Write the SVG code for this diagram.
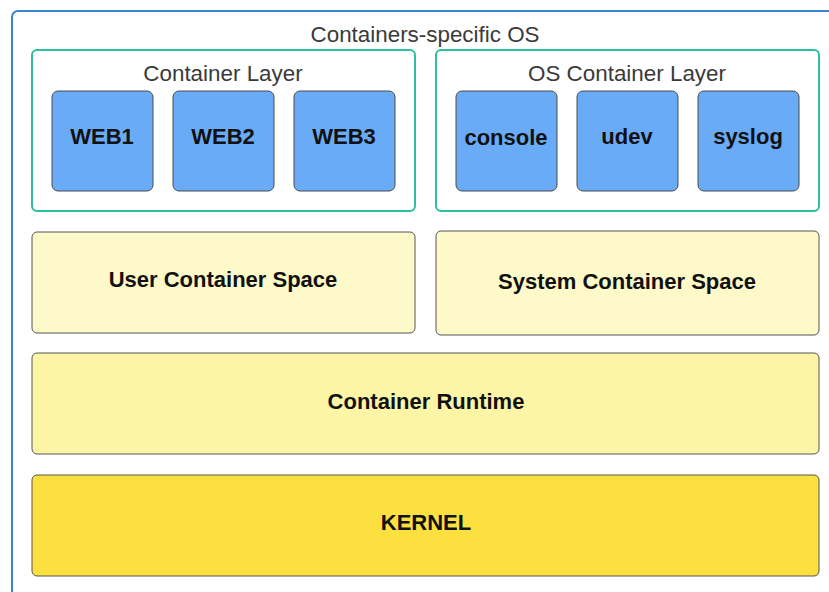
<svg xmlns="http://www.w3.org/2000/svg" width="829" height="592" viewBox="0 0 829 592">
<style>
text{font-family:"Liberation Sans",Arial,sans-serif;text-anchor:middle;dominant-baseline:central}
.title{font-size:22.4px;fill:#3a3a3a}
.lbl{font-size:22px;font-weight:bold;fill:#111}
.layer{fill:#fff;stroke:#2dbf9e;stroke-width:2}
.box{fill:#6aabf8;stroke:#4a4a4a;stroke-width:1}
.space{fill:#fdf9c8;stroke:#555;stroke-width:1}
.rt{fill:#fdf5a6;stroke:#555;stroke-width:1}
.kern{fill:#fce03f;stroke:#555;stroke-width:1}
</style>
<rect width="829" height="592" fill="#fff"/>
<g id="os">
<rect x="12" y="11" width="830" height="600" rx="6" fill="#fff" stroke="#3a85d0" stroke-width="2"/>
<text class="title" x="425" y="34">Containers-specific OS</text>
</g>
<g id="container-layer">
<rect class="layer" x="32" y="50" width="383" height="161" rx="5"/>
<text class="title" x="223" y="73">Container Layer</text>
</g>
<g id="os-container-layer">
<rect class="layer" x="436" y="50" width="383" height="161" rx="5"/>
<text class="title" x="627" y="73">OS Container Layer</text>
</g>
<g id="web1"><rect class="box" x="52" y="91" width="101" height="100" rx="6"/><text class="lbl" x="102" y="136">WEB1</text></g>
<g id="web2"><rect class="box" x="173" y="91" width="101" height="100" rx="6"/><text class="lbl" x="223" y="136">WEB2</text></g>
<g id="web3"><rect class="box" x="294" y="91" width="101" height="100" rx="6"/><text class="lbl" x="344" y="136">WEB3</text></g>
<g id="console"><rect class="box" x="456" y="91" width="101" height="100" rx="6"/><text class="lbl" x="506" y="137">console</text></g>
<g id="udev"><rect class="box" x="577" y="91" width="101" height="100" rx="6"/><text class="lbl" x="627" y="136">udev</text></g>
<g id="syslog"><rect class="box" x="698" y="91" width="101" height="100" rx="6"/><text class="lbl" x="748" y="136">syslog</text></g>
<g id="user-space"><rect class="space" x="32" y="232" width="383" height="101" rx="5"/><text class="lbl" x="223" y="279">User Container Space</text></g>
<g id="system-space"><rect class="space" x="436" y="231" width="383" height="104" rx="5"/><text class="lbl" x="627" y="281">System Container Space</text></g>
<g id="runtime"><rect class="rt" x="32" y="353" width="787" height="101" rx="5"/><text class="lbl" x="426" y="401">Container Runtime</text></g>
<g id="kernel"><rect class="kern" x="32" y="475" width="787" height="101" rx="5"/><text class="lbl" x="426" y="522">KERNEL</text></g>
<g id="connectors"></g>
</svg>
